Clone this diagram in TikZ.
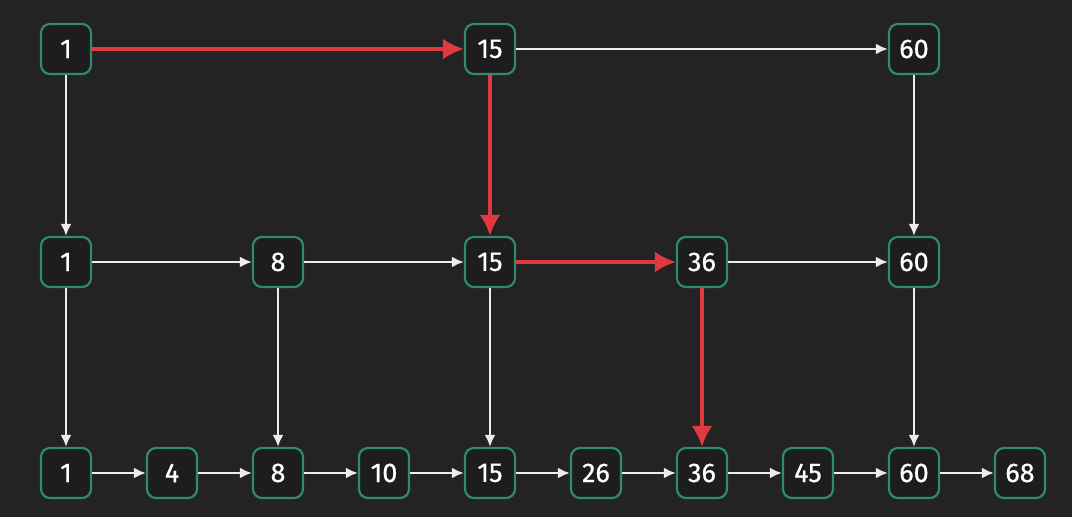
\documentclass[tikz,border=0pt]{standalone}
\usepackage{fontspec}
\setmainfont{Fira Sans}
\newfontfamily\keyfont{Fira Sans}[FakeBold=0.7]
\usetikzlibrary{arrows.meta,positioning}
\definecolor{bgdark}{HTML}{232323}
\definecolor{keyfill}{HTML}{1D1D1D}
\definecolor{keyteal}{HTML}{2E8A72}
\definecolor{linkwhite}{HTML}{EDEDED}
\definecolor{hotred}{HTML}{E0393F}

\begin{document}
\begin{tikzpicture}[->,>={Latex[length=12pt,width=11pt]},line width=2.4pt,draw=linkwhite,node distance=106pt]
    \tikzstyle{key}=[draw=keyteal,fill=keyfill,line width=2.2pt,rounded corners=9pt,minimum width=50pt,minimum height=50pt,inner sep=0pt,text=white,font=\keyfont\fontsize{27}{30}\selectfont]
    \tikzstyle{hot}=[draw=hotred,line width=3.8pt,-{Latex[length=21pt,width=21pt]}]

    \fill[bgdark] (0,0) rectangle (1072pt,517pt);
    \useasboundingbox (0,0) rectangle (1072pt,517pt);

    % level 0
    \node[key] (b1) at (66pt,44pt) {1};
    \node[key] (b4)  [right of=b1]  {4};
    \node[key] (b8)  [right of=b4]  {8};
    \node[key] (b10) [right of=b8]  {10};
    \node[key] (b15) [right of=b10] {15};
    \node[key] (b26) [right of=b15] {26};
    \node[key] (b36) [right of=b26] {36};
    \node[key] (b45) [right of=b36] {45};
    \node[key] (b60) [right of=b45] {60};
    \node[key] (b68) [right of=b60] {68};

    % level 1
    \node[key] (m1)  [above of=b1,  node distance=211pt] {1};
    \node[key] (m8)  [above of=b8,  node distance=211pt] {8};
    \node[key] (m15) [above of=b15, node distance=211pt] {15};
    \node[key] (m36) [above of=b36, node distance=211pt] {36};
    \node[key] (m60) [above of=b60, node distance=211pt] {60};

    % level 2
    \node[key] (t1)  [above of=m1,  node distance=213pt] {1};
    \node[key] (t15) [above of=m15, node distance=213pt] {15};
    \node[key] (t60) [above of=m60, node distance=213pt] {60};

    \path (b1) edge (b4)  (b4) edge (b8)  (b8) edge (b10)  (b10) edge (b15)
          (b15) edge (b26)  (b26) edge (b36)  (b36) edge (b45)  (b45) edge (b60)
          (b60) edge (b68);
    \path (m1) edge (m8)  (m8) edge (m15)  (m36) edge (m60)
          (t15) edge (t60);
    \path (t1) edge (m1)  (t60) edge (m60)
          (m1) edge (b1)  (m8) edge (b8)  (m15) edge (b15)  (m60) edge (b60);

    % search path
    \path (t1) edge[hot] (t15)
          (t15) edge[hot] (m15)
          (m15) edge[hot] (m36)
          (m36) edge[hot] (b36);
\end{tikzpicture}
\end{document}
